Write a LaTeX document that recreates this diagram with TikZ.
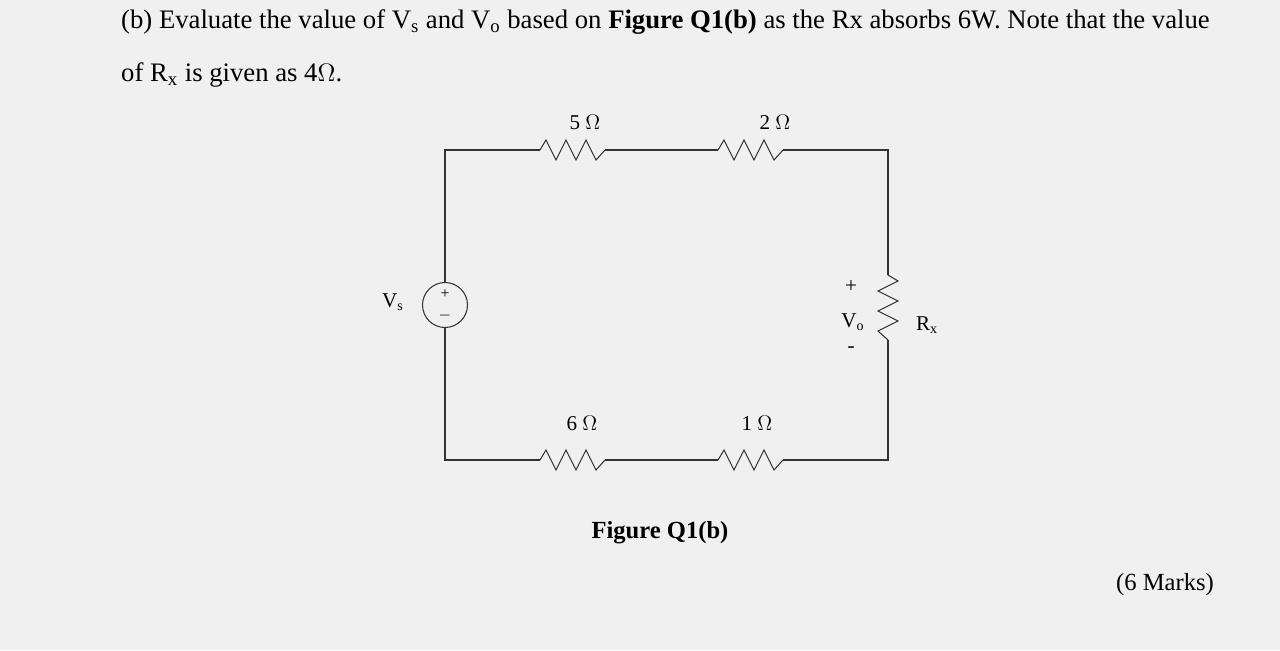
\documentclass[tikz,border=0pt]{standalone}
\usepackage{fontspec}
\setmainfont{Liberation Serif}
\usetikzlibrary{positioning}
\tikzset{
  wire/.style={line width=0.6pt, black!80},
  lbl/.style={font=\fontsize{12}{14}\selectfont},
  txt/.style={font=\fontsize{15.2}{18}\selectfont, anchor=west},
  zig/.pic={\draw[wire] (0,0) -- (6,-10) -- (16,10) -- (26,-10) -- (36,10) -- (46,-10) -- (56,10) -- (65,0);}
}
\begin{document}
\begin{tikzpicture}[x=0.02cm,y=-0.02cm]
  \fill[gray!12] (0,0) rectangle (1280,650);
  \useasboundingbox (0,0) rectangle (1280,650);

  % question text
  \node[txt] (q1) at (115,22) {(b) Evaluate the value of V\textsubscript{s} and V\textsubscript{o} based on \textbf{Figure Q1(b)} as the Rx absorbs 6W. Note that the value};
  \node[txt] (q2) at (115,75) {of R\textsubscript{x} is given as 4$\Omega$.};

  % corners
  \coordinate (tl) at (445,150);
  \coordinate (tr) at (888,150);
  \coordinate (bl) at (445,460);
  \coordinate (br) at (888,460);
  \coordinate (r5a) at (540,150);  \coordinate (r5b) at (605,150);
  \coordinate (r2a) at (718,150);  \coordinate (r2b) at (783,150);
  \coordinate (r6a) at (540,460);  \coordinate (r6b) at (605,460);
  \coordinate (r1a) at (718,460);  \coordinate (r1b) at (783,460);
  \coordinate (rxa) at (888,275);  \coordinate (rxb) at (888,340);

  \node[draw, wire, circle, minimum size=0.9cm, inner sep=0pt] (vs) at (445,305) {};
  \node[font=\fontsize{9}{10}\selectfont] at ([yshift=0.22cm]vs.center) {+};
  \node[font=\fontsize{9}{10}\selectfont] at ([yshift=-0.22cm]vs.center) {$-$};

  % wiring
  \draw[wire] (vs.north) -- (tl) -- (r5a);
  \draw[wire] (r5b) -- (r2a);
  \draw[wire] (r2b) -- (tr) -- (rxa);
  \draw[wire] (rxb) -- (br) -- (r1b);
  \draw[wire] (r1a) -- (r6b);
  \draw[wire] (r6a) -- (bl) -- (vs.south);

  % resistors
  \pic at (r5a) {zig};
  \pic at (r2a) {zig};
  \pic at (r6a) {zig};
  \pic at (r1a) {zig};
  \pic[rotate=-90] at (rxa) {zig};

  % labels
  \node[lbl] (l5) at (585,122) {5 $\Omega$};
  \node[lbl] (l2) at (775,122) {2 $\Omega$};
  \node[lbl] (l6) at (582,423) {6 $\Omega$};
  \node[lbl] (l1) at (757,423) {1 $\Omega$};
  \node[lbl] (lvs) at (393,302) {V\textsubscript{s}};
  \node[lbl] (lrx) at (927,325) {R\textsubscript{x}};
  \node[lbl] (lvo) at (853,322) {V\textsubscript{o}};
  \node[lbl] at (851,287) {+};
  \node[lbl] at (851,350) {-};

  \node[font=\fontsize{14}{17}\selectfont\bfseries] (cap) at (660,533) {Figure Q1(b)};
  \node[font=\fontsize{14}{17}\selectfont] (mk) at (1165,585) {(6 Marks)};
\end{tikzpicture}
\end{document}
